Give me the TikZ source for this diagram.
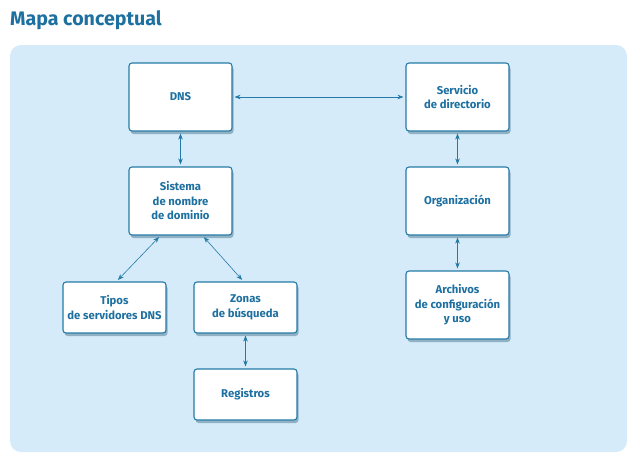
\documentclass[tikz,border=0pt]{standalone}
\usepackage{fontspec}
\setmainfont{Fira Sans}
\usetikzlibrary{positioning, arrows.meta, calc, shadows}
\definecolor{MAPblue}{RGB}{29, 112, 160}
\definecolor{MAPline}{RGB}{36, 122, 166}
\definecolor{MAPpanel}{RGB}{213, 235, 249}
\tikzset{
  concept/.style={rectangle, rounded corners=3pt, draw=MAPline, line width=1.1pt, fill=white,
    minimum height=68pt, minimum width=103pt, align=center, inner sep=2pt, text=MAPblue,
    font=\fontsize{11.3}{14.5}\selectfont\bfseries,
    drop shadow={shadow xshift=1.5pt, shadow yshift=-3pt, opacity=0.35, fill=MAPblue!60!black}},
  leaf/.style={concept, minimum height=51pt},
  link/.style={{Stealth[length=6pt,width=4.5pt]}-{Stealth[length=6pt,width=4.5pt]}, MAPline, line width=0.6pt,
    shorten <=2pt, shorten >=2pt},
}
\begin{document}
\begin{tikzpicture}[x=1pt, y=-1pt]
  \useasboundingbox (0,0) rectangle (640,461);
  \node[anchor=base west, text=MAPblue, font=\fontsize{19.6}{22}\selectfont\bfseries, inner sep=0pt] (title) at (10,25) {Mapa conceptual};
  \fill[MAPpanel, rounded corners=11pt] (10,45) rectangle (627,452);

  \node[concept] (dns) at (180.5,97) {DNS};
  \node[concept] (serv) at (457.5,97) {Servicio\\de directorio};
  \node[concept] (sis) at (180.5,201) {Sistema\\de nombre\\de dominio};
  \node[concept] (org) at (457.5,201) {Organización};
  \node[concept] (arch) at (457.5,305) {Archivos\\de configuración\\y uso};
  \node[leaf] (tipos) at (114.5,307.5) {Tipos\\de servidores DNS};
  \node[leaf] (zonas) at (245.5,307.5) {Zonas\\de búsqueda};
  \node[leaf] (reg) at (245.5,394.5) {Registros};

  \draw[link] (dns) -- (serv);
  \draw[link] (dns) -- (sis);
  \draw[link] (serv) -- (org);
  \draw[link] (org) -- (arch);
  \draw[link] ([xshift=-20pt]sis.south) -- ([xshift=2pt]tipos.north);
  \draw[link] ([xshift=22pt]sis.south) -- ([xshift=-2pt]zonas.north);
  \draw[link] (zonas) -- (reg);
\end{tikzpicture}
\end{document}
